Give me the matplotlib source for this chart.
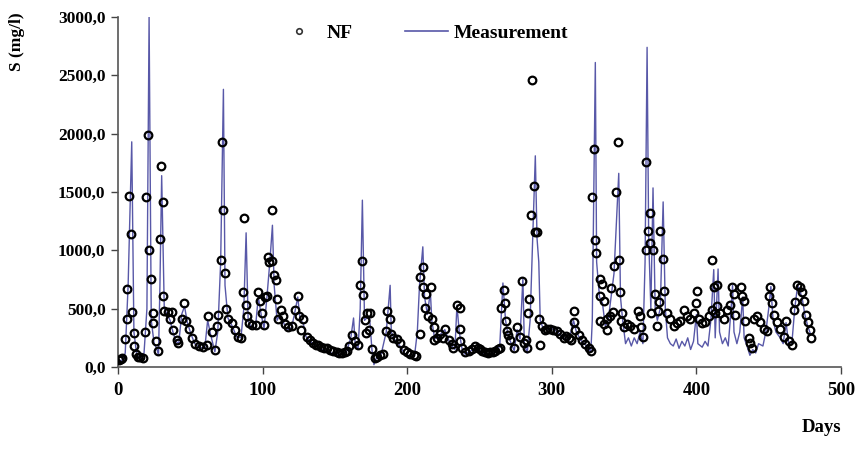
import matplotlib
matplotlib.use('Agg')
import matplotlib.pyplot as plt
from matplotlib.lines import Line2D

# Measurement (linea azul)
med_dias = [0, 3, 5, 7, 9.5, 11, 13, 16, 18, 20, 21.5, 23, 25, 27, 28, 29, 30.2, 32, 34, 36,
            38, 40, 42, 44, 46, 48, 50, 53, 56, 60, 62, 64, 67, 69, 71, 72.9, 74, 76, 79, 82,
            85, 87, 88.6, 90, 92, 95, 97, 99, 101, 103, 105, 106.8, 108, 110, 112, 114, 116, 118, 120, 122,
            124.3, 126, 128, 130, 133, 137, 141, 145, 150, 155, 158, 161, 162.9, 164, 166, 167.5, 169, 170.5, 172, 174,
            175.6, 177, 179, 182, 185.5, 188.2, 189, 191, 194, 198, 202, 205, 207, 208.5, 210.8, 212, 214, 216, 217, 219,
            221, 223, 226, 229, 231, 233, 234.4, 236, 238, 240, 243, 247, 250, 254, 258, 262, 264, 266.2, 268, 270,
            272, 274, 276, 278, 280, 281, 283, 285, 286.5, 288.6, 289.8, 291, 292, 294, 297, 300, 304, 308, 312, 315,
            317, 320, 324, 327, 328, 330.1, 331, 333, 335, 337, 339, 341, 343, 346.3, 347.5, 349, 351, 353, 355, 357,
            359, 361, 363, 364.5, 365.9, 367, 368.5, 370, 371.5, 373, 375, 377, 378.5, 380, 382, 384, 386, 388, 390, 392,
            394, 396, 398, 400, 401, 404, 406, 408, 410, 412, 413, 415, 416, 418, 420, 422, 424, 425, 426, 428,
            430, 432, 433, 435, 437, 439, 441, 443, 446, 448, 450, 451.5, 453, 455, 458, 460, 462, 464, 466, 468,
            470, 471.5, 473, 475, 477, 479]
med_vals = [50, 60, 120, 700, 1930, 300, 100, 70, 120, 500, 3000, 400, 200, 150, 100, 700, 1640, 500, 450, 400,
            300, 220, 200, 450, 520, 380, 300, 200, 170, 160, 400, 280, 130, 300, 900, 2380, 700, 420, 350, 260,
            250, 500, 1150, 400, 340, 330, 600, 450, 330, 600, 900, 1215, 700, 400, 450, 400, 330, 320, 340, 450,
            600, 400, 380, 260, 220, 180, 150, 130, 110, 110, 130, 250, 420, 200, 150, 500, 1430, 400, 420, 420,
            150, 20, 90, 110, 300, 700, 300, 240, 200, 120, 90, 90, 300, 700, 1030, 600, 450, 650, 400, 240,
            260, 280, 320, 220, 180, 150, 530, 300, 150, 110, 130, 160, 140, 110, 110, 140, 180, 720, 400, 260,
            200, 140, 320, 240, 760, 200, 120, 400, 1000, 1810, 1100, 900, 400, 330, 320, 330, 300, 250, 230, 400,
            300, 230, 180, 130, 400, 2610, 900, 600, 550, 350, 400, 600, 800, 1660, 600, 400, 200, 250, 180, 250,
            200, 300, 200, 900, 2740, 1100, 500, 1535, 500, 400, 500, 1415, 500, 250, 200, 180, 240, 160, 220, 180,
            250, 150, 220, 450, 200, 170, 220, 180, 400, 835, 250, 840, 300, 200, 250, 180, 500, 700, 300, 200,
            300, 600, 250, 180, 100, 150, 120, 200, 180, 300, 500, 690, 400, 300, 250, 200, 380, 180, 200, 500,
            700, 650, 600, 450, 350, 280]

# NF (circulos)
nf_dias = [1, 2, 3, 4.6, 6, 6.5, 7.6, 9, 10, 11, 11.3, 12.5, 14, 15.5, 17, 18.7, 19.4, 21, 21.7, 22.6,
           24, 24.5, 26.3, 27.5, 29, 29.8, 31, 31.4, 32, 34.8, 36, 37, 38.3, 40.6, 41.8, 44, 45.7, 47, 49, 51,
           53.3, 56.3, 59, 61.8, 62.5, 64.8, 67, 68.7, 69.4, 71, 71.7, 72.9, 74, 74.5, 76.3, 78.7, 81, 83.3, 85, 86.7,
           87.2, 88.6, 89, 90.9, 92.5, 95.3, 97, 98, 99.4, 101, 101.7, 102.9, 104, 104.7, 106.4, 106.8, 108, 109, 109.8, 110.9,
           113, 114, 115.6, 117.9, 120, 122.5, 124.3, 125.5, 126.4, 127.8, 130.6, 133, 135, 136.8, 138.6, 140.5, 142.5, 144.5,
           146.5, 148.5, 151.3, 153, 155, 157, 158.2, 160, 161.7, 164, 166.3, 167.5, 168.6, 169.3, 170.5, 171.6, 172, 173.3,
           174.4, 175.6, 177.5, 179, 181, 183, 185.5, 185.9, 187.8, 188.7, 190.5, 193, 195, 197.5, 199.8, 202, 204.4, 206,
           209, 209, 210.8, 210.8, 212.4, 213, 214.7, 216.3, 217, 218.2, 218.2, 220.5, 222.8, 225, 226.3, 228.6, 230.9, 232,
           234.4, 236.2, 236.2, 236.6, 237.8, 240, 242.5, 244.5, 247, 249, 250.5, 252, 254, 256, 257.5, 259.5, 261, 262.5,
           264.3, 264.8, 267.1, 267.8, 268.5, 269, 270, 271.3, 273.7, 276, 277.9, 279.5, 280.6, 282.4, 283, 283.3, 284, 285.9,
           286.3, 287.4, 288.2, 289.8, 290.9, 292, 293.2, 295.6, 297, 299, 301, 303.7, 306, 308.3, 310, 311.6, 313.5, 315.1,
           315.6, 316.3, 318.6, 320.9, 323.2, 325.5, 327.2, 327.8, 329.4, 330.1, 330.8, 333, 333, 333.6, 334.7, 335.8, 335.8, 338.1,
           338.1, 340.4, 340.9, 342.3, 342.7, 344.6, 345.6, 346.3, 347.4, 347.9, 348.6, 350.2, 352, 354.3, 356.6, 359.4, 360.8, 361.9,
           363.1, 364.8, 365.4, 366.3, 367.7, 367.7, 368.8, 370, 371.6, 372.8, 373.2, 373.9, 374.6, 376.9, 377.9, 379.7, 382, 384.3,
           386.6, 388.9, 391.2, 393.6, 395.9, 398.2, 399.4, 400.1, 401.7, 404, 406.2, 408.5, 410.8, 410.9, 412, 413.2, 414.3, 414.3,
           416.6, 418.9, 421.2, 423.5, 424.7, 425.8, 427, 430.5, 431.6, 432.7, 433.9, 436.2, 437.4, 438.5, 439.7, 442, 444.3, 446.6,
           448.9, 450, 451.2, 452.4, 453.5, 455.8, 458.1, 460.4, 462.2, 463.9, 466.2, 467.3, 468.5, 469.6, 471.5, 473.1, 474.3, 476.1,
           477, 478.4, 479.3]
nf_vals = [60, 70, 80, 240, 410, 665, 1465, 1140, 470, 290, 180, 110, 90, 85, 80, 300, 1460, 1990, 1000, 755,
           460, 380, 220, 140, 1095, 1720, 1415, 610, 480, 470, 410, 470, 320, 235, 210, 410, 545, 395, 330, 250,
           200, 180, 175, 190, 435, 300, 150, 355, 445, 920, 1925, 1345, 810, 500, 410, 380, 320, 260, 245, 640,
           1280, 530, 440, 375, 360, 360, 640, 570, 465, 360, 600, 610, 940, 900, 1345, 905, 785, 745, 583, 410,
           490, 435, 370, 340, 355, 490, 610, 435, 320, 410, 260, 235, 210, 190, 190, 170, 165, 160,
           145, 135, 125, 120, 120, 130, 140, 180, 275, 220, 190, 705, 905, 620, 400, 290, 465, 320,
           465, 155, 80, 90, 100, 110, 305, 480, 410, 280, 250, 240, 210, 150, 130, 110, 100, 95,
           775, 280, 853, 685, 505, 625, 440, 685, 410, 345, 235, 250, 280, 250, 330, 235, 195, 165,
           530, 505, 330, 220, 165, 125, 140, 155, 180, 165, 155, 140, 125, 120, 125, 130, 140, 155,
           165, 505, 657, 545, 395, 305, 275, 235, 165, 345, 260, 735, 210, 235, 165, 465, 585, 1300,
           2460, 1550, 1160, 1160, 410, 190, 355, 320, 330, 330, 320, 305, 280, 250, 270, 250, 230, 480,
           385, 320, 275, 235, 195, 165, 140, 1455, 1870, 1085, 975, 610, 395, 755, 715, 570, 370, 410,
           320, 440, 675, 470, 865, 1500, 1925, 920, 640, 395, 465, 340, 370, 355, 330, 480, 435, 340,
           260, 1000, 1760, 1165, 1060, 1320, 465, 1000, 625, 355, 480, 555, 1165, 925, 650, 465, 410, 355,
           380, 395, 490, 440, 410, 465, 545, 650, 410, 380, 385, 440, 490, 920, 690, 465, 700, 520,
           465, 410, 490, 530, 690, 625, 450, 690, 610, 570, 395, 250, 210, 165, 410, 440, 385, 330,
           305, 610, 690, 545, 450, 385, 330, 260, 395, 220, 190, 490, 555, 705, 690, 640, 570, 450,
           385, 320, 250]

y_ticks = [0, 500, 1000, 1500, 2000, 2500, 3000]
y_etiquetas = ['0,0', '500,0', '1000,0', '1500,0', '2000,0', '2500,0', '3000,0']
x_ticks = [0, 100, 200, 300, 400, 500]

plt.rcParams['font.family'] = 'Liberation Serif'
plt.rcParams['font.weight'] = 'bold'

fig = plt.figure(figsize=(8.55, 4.66), dpi=100)
ax = fig.add_axes([118/855, 1 - 367/466, (841 - 118)/855, (367 - 17)/466])

ax.plot(med_dias, med_vals, color='#5858a8', linewidth=1.0, zorder=2)
ax.plot(nf_dias, nf_vals, linestyle='none', marker='o', markersize=5.5,
        markerfacecolor='none', markeredgecolor='black', markeredgewidth=1.6, zorder=3)

ax.set_xlim(0, 500)
ax.set_ylim(0, 3000)
ax.set_xticks(x_ticks)
ax.set_yticks(y_ticks)
ax.set_yticklabels(y_etiquetas)
ax.tick_params(axis='both', direction='out', length=5, width=1, colors='#444444',
               labelcolor='black')
ax.tick_params(axis='x', labelsize=13.5, pad=6)
ax.tick_params(axis='y', labelsize=12.5, pad=4)
for lado in ['top', 'right']:
    ax.spines[lado].set_visible(False)
for lado in ['left', 'bottom']:
    ax.spines[lado].set_color('#555555')
    ax.spines[lado].set_linewidth(1.2)

fig.text(17/855, 1 - 42/466, 'S (mg/l)', rotation=90, ha='center', va='center',
         fontsize=12.5, fontweight='bold')
fig.text(822/855, 1 - 427/466, 'Days', ha='center', va='center', fontsize=13.5, fontweight='bold')

h_nf = Line2D([], [], linestyle='none', marker='o', markersize=4,
              markerfacecolor='none', markeredgecolor='#333333', markeredgewidth=1.2)
h_med = Line2D([], [], color='#5858a8', linewidth=1.2)
fig.legend([h_nf, h_med], ['NF', 'Measurement'], loc='center',
           bbox_to_anchor=(423/855, 1 - 33/466), ncol=2, frameon=False,
           fontsize=14, handlelength=2.2, columnspacing=2.7, handletextpad=0.3)

plt.savefig('out.png', dpi=100)
